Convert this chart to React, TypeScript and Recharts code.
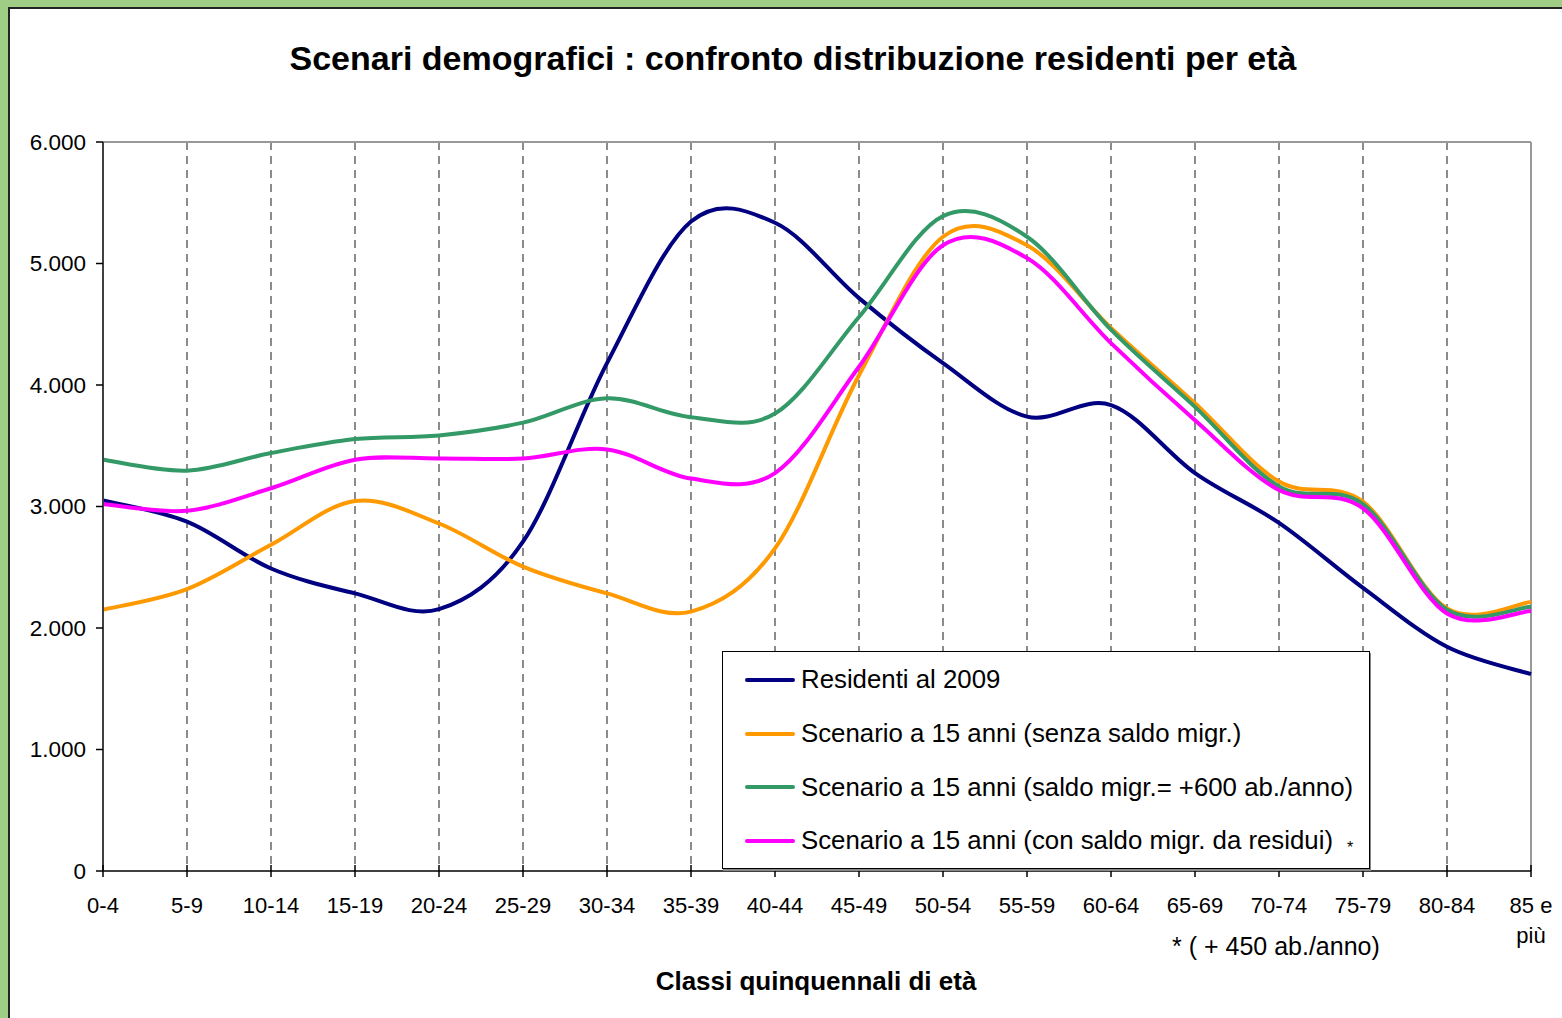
import React from 'react';
import { LineChart, Line, XAxis, YAxis, CartesianGrid, ReferenceLine, Legend } from 'recharts';

const ageClasses = ['0-4', '5-9', '10-14', '15-19', '20-24', '25-29', '30-34', '35-39', '40-44', '45-49', '50-54', '55-59', '60-64', '65-69', '70-74', '75-79', '80-84', '85 e più'];
const residenti2009 = [3050, 2875, 2490, 2285, 2155, 2710, 4180, 5345, 5335, 4715, 4180, 3740, 3835, 3275, 2865, 2330, 1845, 1620];
const senzaSaldo = [2150, 2320, 2685, 3045, 2860, 2505, 2285, 2135, 2655, 4080, 5220, 5150, 4470, 3850, 3205, 3040, 2160, 2215];
const saldo600 = [3385, 3295, 3440, 3555, 3585, 3690, 3890, 3735, 3765, 4560, 5390, 5220, 4455, 3820, 3165, 3020, 2150, 2175];
const saldoResidui = [3020, 2965, 3150, 3385, 3395, 3395, 3470, 3230, 3275, 4150, 5150, 5045, 4345, 3710, 3135, 2985, 2120, 2140];
const yTicks = [0, 1000, 2000, 3000, 4000, 5000, 6000];

const series = [
  { key: 'res', name: 'Residenti al 2009', color: '#000080', values: residenti2009, mark: '' },
  { key: 'senza', name: 'Scenario a 15 anni (senza saldo migr.)', color: '#FF9900', values: senzaSaldo, mark: '' },
  { key: 's600', name: 'Scenario a 15 anni (saldo migr.= +600 ab./anno)', color: '#339966', values: saldo600, mark: '' },
  { key: 'resid', name: 'Scenario a 15 anni (con saldo migr. da residui)', color: '#FF00FF', values: saldoResidui, mark: '*' },
];

const data = ageClasses.map((age, i) => {
  const row: any = { age };
  series.forEach((s) => (row[s.key] = s.values[i]));
  return row;
});

const FONT = 'Arial, "Liberation Sans", sans-serif';

// excel-like smoothing (catmull-rom as bezier)
function excelSmooth(context: any) {
  let pts: number[][] = [];
  return {
    areaStart() {},
    areaEnd() {},
    lineStart() { pts = []; },
    point(x: number, y: number) { pts.push([+x, +y]); },
    lineEnd() {
      const n = pts.length;
      if (!n) return;
      context.moveTo(pts[0][0], pts[0][1]);
      for (let i = 0; i < n - 1; i++) {
        const p0 = pts[Math.max(i - 1, 0)];
        const p1 = pts[i];
        const p2 = pts[i + 1];
        const p3 = pts[Math.min(i + 2, n - 1)];
        context.bezierCurveTo(
          p1[0] + (p2[0] - p0[0]) / 6, p1[1] + (p2[1] - p0[1]) / 6,
          p2[0] - (p3[0] - p1[0]) / 6, p2[1] - (p3[1] - p1[1]) / 6,
          p2[0], p2[1]
        );
      }
    },
  };
}

const fmt = (v: number) => String(v).replace(/\B(?=(\d{3})+(?!\d))/g, '.');

const AgeTick = (props: any) => {
  const { x, y, payload } = props;
  const words = String(payload.value).split(' ');
  const lines = words.length > 2 ? [words.slice(0, 2).join(' '), words.slice(2).join(' ')] : [String(payload.value)];
  return (
    <g>
      <line x1={x} x2={x} y1={y - 6} y2={y + 6} stroke="#000" strokeWidth={1.5} />
      <text x={x} y={y + 42} textAnchor="middle" fontSize={22} fill="#000" fontFamily={FONT}>
        {lines.map((l, i) => (
          <tspan key={i} x={x} dy={i === 0 ? 0 : 30}>{l}</tspan>
        ))}
      </text>
    </g>
  );
};

const LegendBox = () => (
  <div
    style={{
      width: 646,
      height: 215,
      border: '1px solid #000',
      boxShadow: '1px 2px 0 #888',
      background: '#fff',
      paddingTop: 1,
      boxSizing: 'content-box',
      fontFamily: FONT,
    }}
  >
    {series.map((s) => (
      <div key={s.key} style={{ height: 53.7, display: 'flex', alignItems: 'center', position: 'relative' }}>
        <div style={{ marginLeft: 22, width: 50, height: 4, borderRadius: 2, background: s.color }} />
        <span style={{ marginLeft: 6, fontSize: 25.8, color: '#000', whiteSpace: 'nowrap' }}>{s.name}</span>
        {s.mark && <span style={{ marginLeft: 14, fontSize: 16, position: 'relative', top: 7 }}>{s.mark}</span>}
      </div>
    ))}
  </div>
);

export default function App() {
  return (
    <div style={{ position: 'absolute', left: 0, top: 0, width: 1562, height: 1018, background: '#A0CD85', overflow: 'hidden' }}>
      <div style={{ position: 'absolute', left: 8, top: 7, width: 1600, height: 1100, background: '#fff', borderLeft: '2px solid #222', borderTop: '2px solid #222' }} />
      <div style={{ position: 'absolute', left: 8, top: 39, width: 1570, textAlign: 'center', fontFamily: FONT, fontWeight: 'bold', fontSize: 34, lineHeight: '38px', color: '#000' }}>
        Scenari demografici : confronto distribuzione residenti per età
      </div>
      <div style={{ position: 'absolute', left: 0, top: 966, width: 1632, textAlign: 'center', fontFamily: FONT, fontWeight: 'bold', fontSize: 26, lineHeight: '30px', color: '#000' }}>
        Classi quinquennali di età
      </div>
      <div style={{ position: 'absolute', left: 1172, top: 932, fontFamily: FONT, fontSize: 25, lineHeight: '28px', color: '#000', whiteSpace: 'pre' }}>
        {'* ( + 450 ab./anno)'}
      </div>
      <div style={{ position: 'absolute', left: 0, top: 0 }}>
        <LineChart width={1562} height={1018} data={data} margin={{ top: 142, right: 31, left: 8, bottom: 117 }}>
          <CartesianGrid horizontal={false} vertical stroke="#666" strokeWidth={1.5} strokeDasharray="8 6" />
          <ReferenceLine y={6000} stroke="#999" strokeWidth={2} />
          <ReferenceLine x="85 e più" stroke="#999" strokeWidth={2} />
          <XAxis
            dataKey="age"
            interval={0}
            height={30}
            tickSize={0}
            tickMargin={0}
            tickLine={false}
            axisLine={{ stroke: '#000', strokeWidth: 1.5 }}
            tick={<AgeTick />}
          />
          <YAxis
            width={95}
            domain={[0, 6000]}
            ticks={yTicks}
            interval={0}
            tickFormatter={fmt}
            tickSize={7}
            tickMargin={10}
            axisLine={{ stroke: '#404040', strokeWidth: 2 }}
            tickLine={{ stroke: '#000', strokeWidth: 1.5 }}
            tick={{ fill: '#000', fontSize: 22.5, fontFamily: FONT }}
          />
          <Legend
            layout="vertical"
            align="center"
            verticalAlign="middle"
            content={() => <LegendBox />}
            wrapperStyle={{ position: 'absolute', left: 722, top: 651, width: 648, height: 217 }}
          />
          {series.map((s) => (
            <Line
              key={s.key}
              dataKey={s.key}
              name={s.name}
              type={excelSmooth as any}
              stroke={s.color}
              strokeWidth={4}
              dot={false}
              activeDot={false}
              isAnimationActive={false}
            />
          ))}
        </LineChart>
      </div>
    </div>
  );
}
